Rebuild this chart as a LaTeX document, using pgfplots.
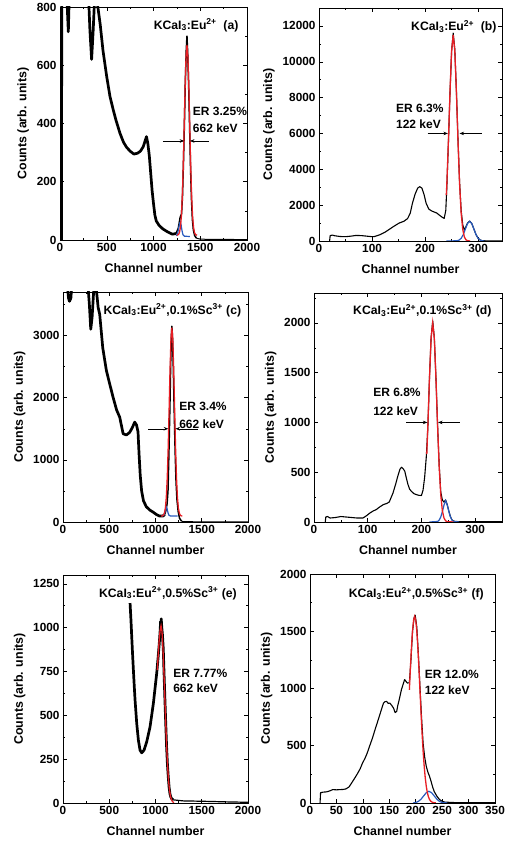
\documentclass[border=0pt]{standalone}
\usepackage{pgfplots}
\pgfplotsset{compat=1.18}
\usepackage{fontspec}
\setmainfont{Liberation Sans}
\usetikzlibrary{arrows.meta}
\definecolor{fitred}{RGB}{232,30,36}
\definecolor{fitblue}{RGB}{40,90,190}
\pgfplotsset{
  panel/.style={
    scale only axis, anchor=south west,
    axis line style={line width=0.6pt},
    tick style={black, line width=0.5pt},
    major tick length=4pt, minor tick length=2pt,
    tick align=inside,
    ticklabel style={font=\bfseries\fontsize{11.8}{13}\selectfont},
    label style={font=\bfseries\fontsize{12.4}{14}\selectfont},
    xlabel style={yshift=-5pt},
    ylabel style={yshift=1pt},
    xlabel={Channel number}, ylabel={Counts (arb. units)},
    scaled ticks=false,
    /pgf/number format/1000 sep={},
    /pgf/number format/assume math mode=true,
    xmin=0, ymin=0, clip=true,
  },
  blk/.style={black, line width=#1, line join=round},
  blk/.default=1.1pt,
  rfit/.style={fitred, line width=1.3pt},
  bfit/.style={fitblue, line width=1.2pt},
  arr/.style={black, line width=0.5pt, -{Stealth[length=4.5pt,width=3.5pt]}},
}
\newcommand{\ttl}{\bfseries\fontsize{12.2}{13}\selectfont}
\newcommand{\ert}{\bfseries\fontsize{12}{13}\selectfont}
\begin{document}
\begin{tikzpicture}
\useasboundingbox (0,0) rectangle (505pt,848pt);
% (a)
\begin{axis}[panel, at={(60pt,608pt)}, width=187pt, height=233pt,
  xmax=2000, ymax=800, xtick={0,500,...,2000}, minor xtick={250,750,...,1750},
  ytick={0,200,...,800}, minor ytick={100,300,...,700}]
\addplot[blk=2.7pt] coordinates {(15,0) (20,1000) (40,950) (60,900) (75,820) (89,715) (100,850) (120,1000) (200,1100) (280,1000) (300,880) (320,720) (338,620) (355,720) (370,830) (390,860) (405,800) (430,740) (460,650) (500,560) (535,492) (570,446) (600,410) (642,366) (680,335) (713,318) (750,305) (790,295) (830,298) (860,305) (890,320) (910,340) (925,355) (940,330) (955,290) (970,230) (985,170) (1000,125) (1015,85) (1030,65) (1060,50) (1100,38) (1150,28) (1200,20) (1240,22)};
\addplot[blk=1.5pt] coordinates {(1240,22) (1265,40) (1285,78) (1300,90) (1310,150) (1320,260) (1330,390) (1340,540) (1350,650) (1358,700) (1366,640) (1376,530) (1386,390) (1396,250) (1406,140) (1416,70) (1426,35) (1440,15) (1460,6)};
\addplot[blk=1pt] coordinates {(1460,6) (1500,3) (1600,2) (1800,2) (2000,1)};
\addplot[bfit] coordinates {(1245,14) (1260,25) (1270,42) (1280,58) (1287,62) (1295,52) (1305,32) (1315,18) (1330,13) (1390,12)};
\addplot[rfit] coordinates {(1250,16) (1268,19) (1278,26) (1288,44) (1298,81) (1308,148) (1318,251) (1328,384) (1338,523) (1348,629) (1358,670) (1368,629) (1378,523) (1388,384) (1398,251) (1408,148) (1418,81) (1428,44) (1438,26) (1448,19) (1465,16)};
\addplot[arr] coordinates {(1100,340) (1328,340)};
\addplot[arr] coordinates {(1590,340) (1390,340)};
\node[anchor=west, font=\ert, inner sep=0pt] at (axis cs:1420,440) {ER 3.25\%};
\node[anchor=west, font=\ert, inner sep=0pt] at (axis cs:1420,385) {662 keV};
\node[anchor=north east, font=\ttl, inner sep=0pt] at (rel axis cs:0.955,0.95) {KCaI\textsubscript{3}:Eu\textsuperscript{2+}\ \ (a)};
\end{axis}
% (b)
\begin{axis}[panel, at={(319pt,607pt)}, width=183pt, height=233pt,
  xmax=345, ymax=13000, xtick={0,100,200,300}, minor xtick={50,150,250},
  ytick={0,2000,...,12000}, minor ytick={1000,3000,...,11000}]
\addplot[blk] coordinates {(20,0) (21,300) (25,330) (30,290) (40,250) (50,240) (60,270) (70,310) (80,300) (90,270) (100,240) (105,250) (115,350) (125,500) (139,780) (151,1000) (160,1100) (167,1250) (172,1550) (176,2090) (181,2600) (186,2950) (190,3030) (194,2950) (198,2600) (202,2100) (207,1780) (212,1680) (217,1620) (222,1560) (227,1440) (232,1330) (236,1260) (239,1700) (241,3000) (244,5500) (247,8300) (250,10600) (253,11600) (256,10700) (259,8400) (262,5700) (265,3300) (268,1700) (271,900) (274,600) (277,800) (280,1000) (284,1110) (288,980) (292,670) (296,360) (300,150) (304,50) (308,15) (320,5) (345,2)};
\addplot[bfit] coordinates {(240,0) (260,12) (264,48) (268,149) (272,357) (276,667) (280,970) (284,1100) (288,970) (292,667) (296,357) (300,149) (304,48) (308,12) (312,0)};
\addplot[rfit] coordinates {(240,2561) (241,3196) (244,5597) (247,8350) (250,10616) (253,11500) (256,10616) (259,8350) (262,5597) (265,3196) (268,1556) (271,646) (274,228) (277,69) (280,17) (285,0)};
\addplot[arr] coordinates {(205,6000) (243,6000)};
\addplot[arr] coordinates {(307,6000) (265,6000)};
\node[anchor=west, font=\ert, inner sep=0pt] at (axis cs:145,7400) {ER 6.3\%};
\node[anchor=west, font=\ert, inner sep=0pt] at (axis cs:145,6500) {122 keV};
\node[anchor=north east, font=\ttl, inner sep=0pt] at (rel axis cs:0.971,0.948) {KCaI\textsubscript{3}:Eu\textsuperscript{2+}\ \ (b)};
\end{axis}
% (c)
\begin{axis}[panel, at={(63pt,326pt)}, width=185pt, height=230pt,
  xmax=2000, ymax=3700, xtick={0,500,...,2000}, minor xtick={250,750,...,1750},
  ytick={0,1000,2000,3000}, minor ytick={500,1500,2500,3500}]
\addplot[blk=2.7pt] coordinates {(5,4500) (40,3900) (60,3600) (70,3550) (85,3600) (100,3900) (200,4300) (260,4000) (285,3500) (300,3100) (315,3300) (335,3800) (360,3750) (380,3450) (397,3340) (430,2800) (469,2437) (500,2250) (541,2009) (580,1800) (613,1687) (650,1420) (685,1400) (720,1440) (750,1520) (775,1607) (795,1560) (811,1450) (822,1100) (835,750) (850,500) (870,340) (901,245) (940,190) (973,160) (1010,120) (1045,95) (1080,95) (1100,120)};
\addplot[blk=1.5pt] coordinates {(1100,120) (1115,200) (1125,290) (1135,500) (1145,1100) (1155,1800) (1165,2600) (1172,3000) (1177,3150) (1183,3000) (1192,2500) (1202,1800) (1212,1150) (1222,650) (1232,360) (1245,170) (1260,60) (1280,15)};
\addplot[blk=1pt] coordinates {(1280,15) (1300,5) (1500,3) (2000,2)};
\addplot[bfit] coordinates {(1070,95) (1090,110) (1100,150) (1110,210) (1118,240) (1126,210) (1135,150) (1145,110) (1160,97) (1240,95)};
\addplot[rfit] coordinates {(1060,95) (1077,100) (1087,112) (1097,146) (1107,228) (1117,400) (1127,710) (1137,1189) (1147,1801) (1157,2443) (1167,2937) (1177,3125) (1187,2937) (1197,2443) (1207,1801) (1217,1189) (1227,710) (1237,400) (1247,228) (1257,146) (1267,112) (1277,100) (1290,95)};
\addplot[arr] coordinates {(920,1500) (1138,1500)};
\addplot[arr] coordinates {(1460,1500) (1216,1500)};
\node[anchor=west, font=\ert, inner sep=0pt] at (axis cs:1255,1860) {ER 3.4\%};
\node[anchor=west, font=\ert, inner sep=0pt] at (axis cs:1255,1575) {662 keV};
\node[anchor=north east, font=\ttl, inner sep=0pt] at (rel axis cs:0.964,0.95) {KCaI\textsubscript{3}:Eu\textsuperscript{2+},0.1\%Sc\textsuperscript{3+} (c)};
\end{axis}
% (d)
\begin{axis}[panel, at={(314pt,326pt)}, width=188pt, height=229pt,
  xmax=350, ymax=2300, xtick={0,100,200,300}, minor xtick={50,150,250},
  ytick={0,500,...,2000}, minor ytick={250,750,...,2250}]
\addplot[blk] coordinates {(21,0) (22,50) (25,55) (30,40) (40,45) (50,55) (60,50) (70,45) (80,40) (91,40) (97,60) (104,90) (110,110) (116,125) (122,150) (129,175) (135,185) (140,200) (147,290) (152,380) (156,460) (160,530) (163,550) (166,535) (169,510) (172,440) (175,376) (178,330) (181,310) (186,285) (190,276) (195,268) (200,266) (203,320) (206,450) (209,650) (212,950) (215,1450) (218,1850) (221,2020) (224,1850) (227,1450) (230,980) (233,580) (236,300) (239,220) (242,200) (245,222) (248,175) (251,110) (254,55) (257,20) (260,8) (270,3) (300,3) (350,2)};
\addplot[bfit] coordinates {(215,0) (230,5) (233,18) (236,50) (239,105) (242,170) (245,215) (248,170) (251,105) (254,50) (257,18) (260,5) (270,0)};
\addplot[rfit] coordinates {(210,682) (212,974) (215,1452) (218,1846) (221,2000) (224,1846) (227,1452) (230,974) (233,556) (236,271) (239,112) (242,40) (245,12) (248,3) (260,0)};
\addplot[arr] coordinates {(172,1000) (211,1000)};
\addplot[arr] coordinates {(271,1000) (231,1000)};
\node[anchor=west, font=\ert, inner sep=0pt] at (axis cs:110,1300) {ER 6.8\%};
\node[anchor=west, font=\ert, inner sep=0pt] at (axis cs:110,1116) {122 keV};
\node[anchor=north east, font=\ttl, inner sep=0pt] at (rel axis cs:0.945,0.952) {KCaI\textsubscript{3}:Eu\textsuperscript{2+},0.1\%Sc\textsuperscript{3+} (d)};
\end{axis}
% (e)
\begin{axis}[panel, at={(63pt,45pt)}, width=185pt, height=228pt,
  xmax=2000, ymax=1300, xtick={0,500,...,2000}, minor xtick={250,750,...,1750},
  ytick={0,250,...,1250}, minor ytick={125,375,...,1125}]
\addplot[blk=2.7pt] coordinates {(725,1140) (735,1040) (743,949) (752,850) (761,758) (770,670) (779,587) (797,454) (815,358) (833,301) (851,286) (876,301) (905,349) (941,434) (977,568) (1013,739) (1030,840) (1041,911) (1050,980) (1055,1035) (1058,1000) (1062,1050) (1068,1000) (1075,960) (1084,880) (1093,730) (1102,587) (1111,450) (1120,320) (1129,220) (1138,149) (1147,90) (1156,53) (1165,35) (1174,25) (1190,18)};
\addplot[blk=1.2pt] coordinates {(1190,18) (1228,16) (1300,12) (1500,10) (1800,6) (2000,4)};
\addplot[rfit] coordinates {(1020,758) (1030,850) (1040,930) (1050,985) (1060,1010) (1070,979) (1080,887) (1090,757) (1100,613) (1110,465) (1120,330) (1130,219) (1140,136) (1150,80) (1160,44) (1170,23) (1180,11) (1190,5) (1200,2)};
\node[anchor=west, font=\ert, inner sep=0pt] at (axis cs:1190,739) {ER 7.77\%};
\node[anchor=west, font=\ert, inner sep=0pt] at (axis cs:1190,654) {662 keV};
\node[anchor=north east, font=\ttl, inner sep=0pt] at (rel axis cs:0.94,0.949) {KCaI\textsubscript{3}:Eu\textsuperscript{2+},0.5\%Sc\textsuperscript{3+} (e)};
\end{axis}
% (f)
\begin{axis}[panel, at={(310pt,45pt)}, width=185pt, height=229pt,
  xmax=350, ymax=2000, xtick={0,50,...,350},
  ytick={0,500,...,2000}, minor ytick={250,750,...,1750}]
\addplot[blk] coordinates {(19,0) (20,90) (25,95) (31,97) (37,105) (43,117) (50,115) (56,117) (62,118) (68,123) (74,141) (80,184) (85,220) (90,258) (95,300) (99,345) (104,390) (108,433) (113,500) (118,565) (123,640) (127,697) (133,785) (139,873) (142,885) (145,887) (148,870) (151,873) (155,850) (158,829) (161,790) (164,800) (166,850) (168,887) (173,990) (179,1078) (184,1048) (188,1050) (191,1250) (194,1500) (197,1620) (199,1640) (202,1540) (205,1300) (208,1020) (211,750) (214,520) (217,400) (220,320) (223,270) (226,235) (229,190) (232,140) (235,100) (240,60) (245,30) (250,15) (255,8) (270,4) (300,3) (350,2)};
\addplot[bfit] coordinates {(195,0) (200,4) (205,14) (210,33) (215,62) (220,90) (225,102) (230,90) (235,62) (240,33) (245,14) (250,4) (260,0)};
\addplot[rfit] coordinates {(188,989) (190,1184) (192,1362) (194,1505) (196,1598) (198,1630) (200,1598) (202,1505) (204,1362) (206,1184) (208,989) (210,793) (212,611) (214,453) (216,323) (218,221) (220,145) (222,91) (224,55) (226,32) (228,18) (230,10) (233,4) (238,1)};
\node[anchor=west, font=\ert, inner sep=0pt] at (axis cs:217,1121) {ER 12.0\%};
\node[anchor=west, font=\ert, inner sep=0pt] at (axis cs:217,984) {122 keV};
\node[anchor=north east, font=\ttl, inner sep=0pt] at (rel axis cs:0.94,0.943) {KCaI\textsubscript{3}:Eu\textsuperscript{2+},0.5\%Sc\textsuperscript{3+} (f)};
\end{axis}
\end{tikzpicture}
\end{document}
